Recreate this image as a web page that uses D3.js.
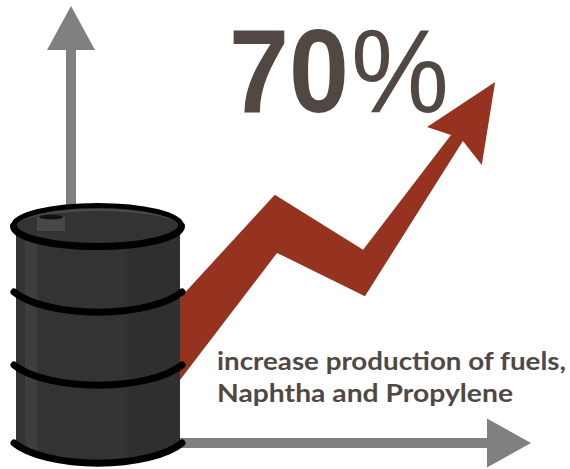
<!DOCTYPE html>
<html>
<head>
<meta charset="utf-8">
<script src="https://cdn.jsdelivr.net/npm/d3@7"></script>
<style>
  html, body { margin: 0; padding: 0; background: #fff; }
  svg { display: block; }
</style>
</head>
<body>
<svg></svg>
<script>
// values, in percent of the axis length
var trendX = [23.7, 44.3, 63.5, 82.6, 77.4, 92.2, 89.3, 85.2, 63.9, 44.8, 23.7];
var trendY = [33.2, 56.8, 44.2, 70.5, 72.3, 82.6, 63.6, 69.1, 33.6, 43.5, 14.4];
var headline = "70%";
var captionLines = ["increase production of fuels,", "Naphtha and Propylene"];

var screen = { width: 570, height: 469 };

var xScale = d3.scaleLinear().domain([0, 100]).range([71, 531]);
var yScale = d3.scaleLinear().domain([0, 100]).range([443, 6]);

var svg = d3.select("svg")
            .attr("width", screen.width)
            .attr("height", screen.height);

// axes
var axisColor = "#808080";
svg.append("line")
   .attr("x1", xScale(0)).attr("x2", xScale(0))
   .attr("y1", yScale(0)).attr("y2", yScale(90))
   .attr("stroke", axisColor).attr("stroke-width", 10);
svg.append("path")
   .attr("d", "M" + xScale(0) + "," + yScale(100) + "l24,44h-48z")
   .attr("fill", axisColor);
svg.append("line")
   .attr("x1", xScale(0)).attr("x2", xScale(91))
   .attr("y1", yScale(0)).attr("y2", yScale(0))
   .attr("stroke", axisColor).attr("stroke-width", 10);
svg.append("path")
   .attr("d", "M" + xScale(100) + "," + yScale(0) + "l-44,-24.5v49z")
   .attr("fill", axisColor);

// trend arrow
var trendLine = d3.line()
                  .x(function(d, i) { return xScale(trendX[i]); })
                  .y(function(d, i) { return yScale(trendY[i]); });
svg.append("path")
   .datum(trendX)
   .attr("d", trendLine(trendX) + "Z")
   .attr("fill", "#963220");

// barrel
var barrel = svg.append("g");
var rimColor = "#000";
var bodyColor = "#333333";

// the sagging hoops, shallow arcs of a wider ellipse
function hoop(y) {
  return "M14," + y + "A92,34 0 0 0 182," + y;
}

var bodyPath = "M16,226H180V443A92,34 0 0 1 16,443Z";
svg.append("clipPath").attr("id", "bodyClip")
   .append("path").attr("d", bodyPath);

barrel.append("path")
      .attr("d", bodyPath)
      .attr("fill", bodyColor);
barrel.append("rect")
      .attr("clip-path", "url(#bodyClip)")
      .attr("x", 25).attr("y", 226).attr("width", 12).attr("height", 240)
      .attr("fill", "#3e3e3e");
barrel.append("rect")
      .attr("clip-path", "url(#bodyClip)")
      .attr("x", 127).attr("y", 226).attr("width", 53).attr("height", 240)
      .attr("fill", "#2f2f2f");

[292, 365, 443].forEach(function(y) {
  barrel.append("path")
        .attr("d", hoop(y))
        .attr("fill", "none")
        .attr("stroke", rimColor)
        .attr("stroke-width", 7)
        .attr("stroke-linecap", "round");
});

// lid, its rim is heavier on the near side
barrel.append("ellipse")
      .attr("cx", 97.5).attr("cy", 226).attr("rx", 84).attr("ry", 20.5)
      .attr("fill", bodyColor)
      .attr("stroke", rimColor)
      .attr("stroke-width", 5);
barrel.append("path")
      .attr("d", "M13.5,226A84,20.5 0 0 0 181.5,226")
      .attr("fill", "none")
      .attr("stroke", rimColor)
      .attr("stroke-width", 7)
      .attr("stroke-linecap", "round");
barrel.append("path")
      .attr("d", "M20,222A80,17 0 0 1 176,222A80,14 0 0 0 20,222Z")
      .attr("fill", "#4a4a4a");

// bung
barrel.append("rect")
      .attr("x", 37).attr("y", 218).attr("width", 28).attr("height", 13)
      .attr("fill", "#484848");
barrel.append("ellipse")
      .attr("cx", 51).attr("cy", 218).attr("rx", 14).attr("ry", 3.5)
      .attr("fill", "#484848");
barrel.append("ellipse")
      .attr("cx", 51).attr("cy", 217).attr("rx", 12).attr("ry", 2.5)
      .attr("fill", "#111");

// text: digits bold and narrow, percent sign lighter and wide
var title = svg.append("text")
   .attr("y", 112)
   .attr("font-family", "'Liberation Sans', sans-serif")
   .attr("font-size", 118)
   .attr("fill", "#524843");
title.append("tspan")
     .attr("x", 229)
     .attr("font-weight", 700)
     .attr("textLength", 120)
     .attr("lengthAdjust", "spacingAndGlyphs")
     .text(headline.slice(0, 2));
title.append("tspan")
     .attr("x", 351)
     .attr("font-weight", 400)
     .attr("textLength", 98)
     .attr("lengthAdjust", "spacingAndGlyphs")
     .text(headline.slice(2));

svg.selectAll(".caption")
   .data(captionLines)
   .enter()
   .append("text")
   .classed("caption", true)
   .attr("x", 217)
   .attr("y", function(d, i) { return 370 + i * 32; })
   .attr("textLength", function(d, i) { return i == 0 ? 349 : 296; })
   .attr("lengthAdjust", "spacingAndGlyphs")
   .attr("font-family", "Lato, sans-serif")
   .attr("font-weight", 700)
   .attr("font-size", 24)
   .attr("fill", "#524843")
   .text(function(d) { return d; });
</script>
</body>
</html>
